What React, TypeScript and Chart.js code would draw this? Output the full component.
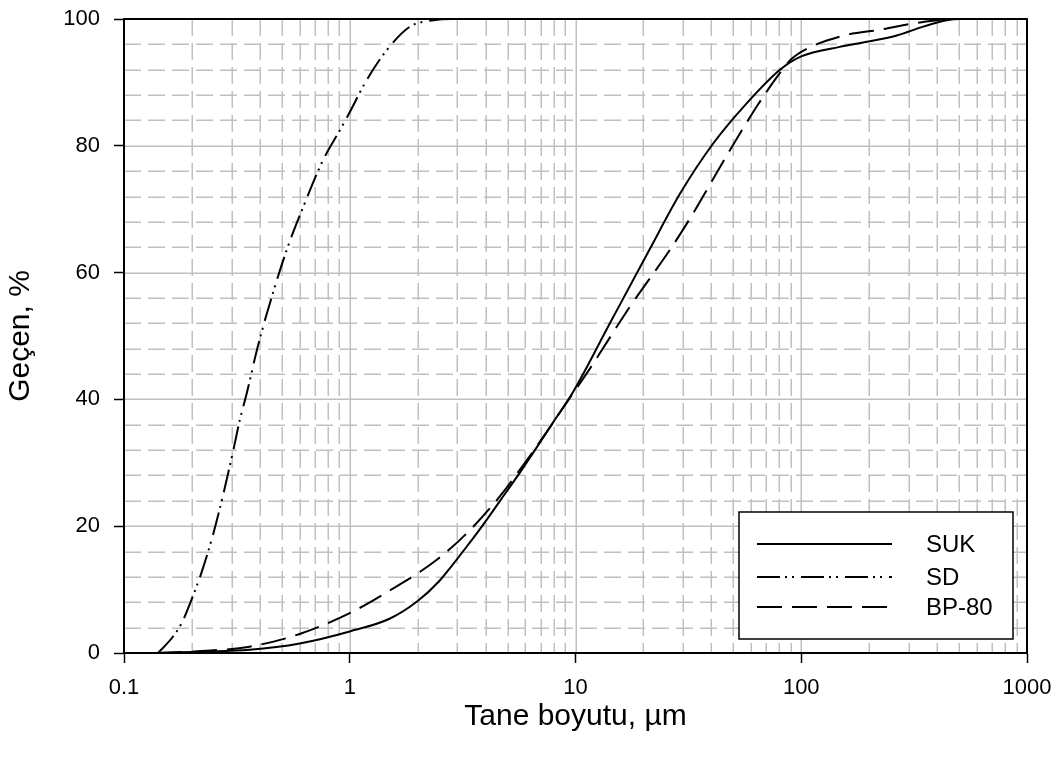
import React, { useEffect, useRef } from "react";
import { Chart, registerables } from "chart.js";

Chart.register(...registerables);

// Particle size (µm) and passing (%) readings
const SUK_X = [0.14, 0.22, 0.36, 0.6, 1, 1.5, 2, 2.5, 2.78, 3.3, 3.91, 4.63, 5.68, 6.5, 8, 9.77, 14.2, 21.4, 29.1, 40.8, 57.3, 80.5, 100, 148, 188, 265, 347, 441, 505, 560];
const SUK_Y = [0, 0.2, 0.5, 1.5, 3.4, 5.4, 8.2, 11.4, 13.4, 16.8, 20.3, 24.0, 28.5, 31.6, 36.5, 41.2, 52.0, 63.8, 72.5, 80.4, 86.7, 92.0, 94.1, 95.6, 96.3, 97.4, 98.8, 99.8, 100, 100];

const SD_X = [0.1416, 0.165, 0.18, 0.196, 0.221, 0.249, 0.276, 0.305, 0.326, 0.35, 0.388, 0.429, 0.526, 0.623, 0.763, 0.906, 0.986, 1.19, 1.46, 1.85, 2.35, 3, 10, 100, 560];
const SD_Y = [0, 2.6, 4.7, 7.8, 12.8, 18.9, 25.2, 32, 36.8, 41, 47.8, 53.5, 63.6, 70.4, 77.8, 82.5, 84.9, 90.4, 95.1, 98.8, 99.8, 100, 100, 100, 100];

const BP_X = [0.14, 0.22, 0.36, 0.6, 1, 1.51, 2.43, 3.41, 4.62, 6.08, 7.2, 9.1, 11.6, 17.4, 26.2, 32.1, 48.3, 63.5, 80.5, 90, 106, 159, 223, 313, 398, 450, 560];
const BP_Y = [0, 0.3, 1.0, 3.0, 6.3, 9.9, 14.7, 19.4, 24.7, 30.4, 34.1, 39.4, 44.9, 54.6, 63.6, 68.5, 79.3, 86.2, 91.5, 93.6, 95.3, 97.5, 98.3, 99.3, 99.8, 100, 100];

const SERIES_NAMES = ["SUK", "SD", "BP-80"];
const X_TICK_LABELS = ["0.1", "1", "10", "100", "1000"];
const Y_TICK_LABELS = ["0", "20", "40", "60", "80", "100"];
const X_TITLE = "Tane boyutu, µm";
const Y_TITLE = "Geçen, %";

const FONT = "'Liberation Sans', Arial, sans-serif";
const GRID = "#c0c0c0";

const toPts = (xs: number[], ys: number[]) => xs.map((x, i) => ({ x, y: ys[i] }));
const isDecade = (v: number) => {
  const l = Math.log10(v);
  return Math.abs(l - Math.round(l)) < 1e-6;
};

const gridPlugin = {
  id: "customGrid",
  beforeDatasetsDraw(chart: any) {
    const { ctx, chartArea: a, scales } = chart;
    const xs = scales.x, ys = scales.y;
    ctx.save();
    ctx.strokeStyle = GRID;
    ctx.lineWidth = 1.5;
    for (let e = -1; e < 3; e++) {
      for (let k = 1; k <= 9; k++) {
        const v = k * Math.pow(10, e);
        const px = Math.round(xs.getPixelForValue(v)) + 0.25;
        if (px <= a.left + 1) continue;
        ctx.setLineDash(k === 1 ? [] : [17, 7]);
        ctx.beginPath();
        ctx.moveTo(px, a.top);
        ctx.lineTo(px, a.bottom);
        ctx.stroke();
      }
    }
    for (let v = 4; v < 100; v += 4) {
      const py = Math.round(ys.getPixelForValue(v)) + 0.25;
      ctx.setLineDash(v % 20 === 0 ? [] : [17, 7]);
      ctx.beginPath();
      ctx.moveTo(a.left, py);
      ctx.lineTo(a.right, py);
      ctx.stroke();
    }
    ctx.restore();
  },
  afterDraw(chart: any) {
    const { ctx, chartArea: a } = chart;
    ctx.save();
    ctx.setLineDash([]);
    ctx.strokeStyle = "#000";
    ctx.lineWidth = 2;
    ctx.strokeRect(a.left, a.top, a.right - a.left, a.bottom - a.top);
    ctx.fillStyle = "#000";
    ctx.font = `30px ${FONT}`;
    ctx.textAlign = "center";
    ctx.textBaseline = "middle";
    ctx.fillText(X_TITLE, (a.left + a.right) / 2, 717);
    ctx.save();
    ctx.translate(21, (a.top + a.bottom) / 2);
    ctx.rotate(-Math.PI / 2);
    ctx.fillText(Y_TITLE, 0, 0);
    ctx.restore();
    const bx = 739, by = 512, bw = 274, bh = 127;
    ctx.fillStyle = "#fff";
    ctx.fillRect(bx, by, bw, bh);
    ctx.strokeStyle = "#000";
    ctx.lineWidth = 1.5;
    ctx.strokeRect(bx, by, bw, bh);
    const rows = [544, 577, 607];
    chart.data.datasets.forEach((ds: any, i: number) => {
      ctx.setLineDash(ds.borderDash || []);
      ctx.lineWidth = 2;
      ctx.beginPath();
      ctx.moveTo(757, rows[i]);
      ctx.lineTo(892, rows[i]);
      ctx.stroke();
      ctx.setLineDash([]);
      ctx.fillStyle = "#000";
      ctx.textAlign = "left";
      ctx.textBaseline = "middle";
      ctx.font = `24px ${FONT}`;
      ctx.fillText(ds.label, 926, rows[i] + 1);
    });
    ctx.restore();
  },
};

export default function App() {
  const ref = useRef<HTMLCanvasElement>(null);
  useEffect(() => {
    if (!ref.current) return;
    const chart = new Chart(ref.current, {
      type: "line",
      data: {
        datasets: [
          { label: SERIES_NAMES[0], data: toPts(SUK_X, SUK_Y), borderColor: "#000", borderWidth: 2, pointRadius: 0, cubicInterpolationMode: "monotone", borderDash: [] },
          { label: SERIES_NAMES[1], data: toPts(SD_X, SD_Y), borderColor: "#000", borderWidth: 2, pointRadius: 0, cubicInterpolationMode: "monotone", borderDash: [23, 5, 2, 5, 2, 7] },
          { label: SERIES_NAMES[2], data: toPts(BP_X, BP_Y), borderColor: "#000", borderWidth: 2, pointRadius: 0, cubicInterpolationMode: "monotone", borderDash: [25, 10] },
        ],
      },
      options: {
        responsive: false,
        animation: false,
        devicePixelRatio: 1,
        layout: { padding: { top: 19, right: 31, left: 0, bottom: 0 } },
        plugins: { legend: { display: false }, tooltip: { enabled: false }, title: { display: false } },
        scales: {
          x: {
            type: "logarithmic",
            min: 0.1,
            max: 1000,
            afterFit: (s: any) => {
              s.height = 109;
              s.paddingLeft = 0;
              s.paddingRight = 0;
            },
            grid: {
              drawOnChartArea: false,
              drawTicks: true,
              tickLength: 10,
              tickWidth: 1.5,
              tickColor: (c: any) => (c.tick && isDecade(c.tick.value) ? "#000" : "rgba(0,0,0,0)"),
            },
            border: { color: "#000", width: 2 },
            ticks: {
              autoSkip: false,
              maxRotation: 0,
              padding: 12,
              color: "#000",
              font: { family: FONT, size: 22 },
              callback: (v: any) => {
                const n = Number(v);
                if (!isDecade(n)) return "";
                const idx = Math.round(Math.log10(n)) + 1;
                return X_TICK_LABELS[idx] ?? "";
              },
            },
          },
          y: {
            min: 0,
            max: 100,
            afterFit: (s: any) => {
              s.width = 124;
              s.paddingTop = 0;
              s.paddingBottom = 0;
            },
            grid: { drawOnChartArea: false, drawTicks: true, tickLength: 10, tickWidth: 1.5, tickColor: "#000" },
            border: { color: "#000", width: 2 },
            ticks: {
              stepSize: 20,
              padding: 14,
              color: "#000",
              font: { family: FONT, size: 22 },
              callback: (v: any) => Y_TICK_LABELS[Math.round(Number(v) / 20)] ?? "",
            },
          },
        },
      },
      plugins: [gridPlugin],
    } as any);
    return () => chart.destroy();
  }, []);
  return (
    <div style={{ position: "fixed", left: 0, top: 0, width: 1058, height: 762, background: "#fff" }}>
      <canvas ref={ref} width={1058} height={762} />
    </div>
  );
}
